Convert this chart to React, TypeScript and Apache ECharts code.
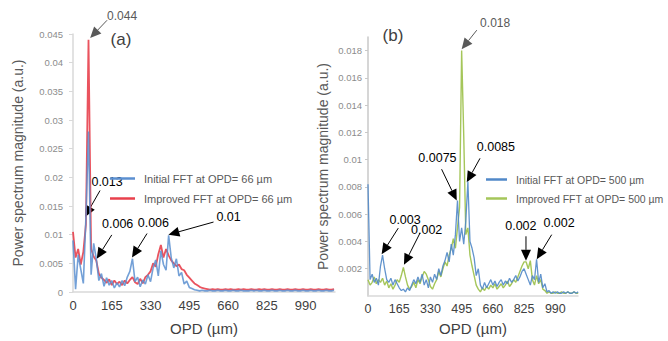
import React, { useEffect, useRef } from 'react';
import * as echarts from 'echarts';

const FONT = '"Liberation Sans", Arial, sans-serif';

// OPD sample positions (µm)
const OPD = [
  0, 11, 22, 33, 44, 55, 66, 77, 88, 99,
  110, 121, 132, 143, 154, 165, 176, 187, 198, 209,
  220, 231, 242, 253, 264, 275, 286, 297, 308, 319,
  330, 341, 352, 363, 374, 385, 396, 407, 418, 429,
  440, 451, 462, 473, 484, 495, 506, 517, 528, 539,
  550, 561, 572, 583, 594, 605, 616, 627, 638, 649,
  660, 671, 682, 693, 704, 715, 726, 737, 748, 759,
  770, 781, 792, 803, 814, 825, 836, 847, 858, 869,
  880, 891, 902, 913, 924, 935, 946, 957, 968, 979,
  990, 1001, 1012, 1023, 1034, 1045, 1056, 1067, 1078, 1089,
  1100, 1111,
];

// (a) OPD = 66 µm
const INITIAL_A = [
  0.009, 0.0005, 0.0065, 0.004, 0.0015, 0.013, 0.028, 0.003, 0.0085, 0.0058,
  0.002, 0.0032, 0.001, 0.0025, 0.0012, 0.002, 0.0007, 0.0016, 0.0009, 0.002,
  0.0011, 0.0026, 0.0036, 0.0058, 0.0018, 0.0026, 0.0009, 0.0021, 0.0014, 0.003,
  0.0018, 0.0042, 0.0056, 0.0028, 0.0072, 0.0048, 0.0038, 0.0099, 0.006, 0.0042,
  0.0058, 0.0028, 0.0034, 0.0014, 0.0019, 0.0008, 0.0006, 0.0004, 0.0003, 0.0002,
  0.0003, 0.0002, 0.0002, 0.0003, 0.0002, 0.0002, 0.0003, 0.0002, 0.0002, 0.0003,
  0.0002, 0.0002, 0.0003, 0.0002, 0.0002, 0.0003, 0.0002, 0.0002, 0.0002, 0.0003,
  0.0002, 0.0003, 0.0002, 0.0002, 0.0003, 0.0002, 0.0002, 0.0003, 0.0002, 0.0002,
  0.0003, 0.0002, 0.0002, 0.0003, 0.0002, 0.0002, 0.0003, 0.0002, 0.0002, 0.0003,
  0.0002, 0.0002, 0.0003, 0.0002, 0.0002, 0.0003, 0.0002, 0.0002, 0.0003, 0.0002,
  0.0002, 0.0003,
];

const IMPROVED_A = [
  0.0105, 0.006, 0.0075, 0.0048, 0.007, 0.0118, 0.044, 0.0075, 0.0062, 0.0055,
  0.0032, 0.0025, 0.0021, 0.0016, 0.0022, 0.0012, 0.002, 0.0014, 0.0018, 0.0012,
  0.002, 0.0015, 0.0021, 0.0026, 0.0017, 0.0014, 0.0023, 0.0015, 0.0026, 0.003,
  0.0036, 0.005, 0.0044, 0.0066, 0.0082, 0.006, 0.0075, 0.0064, 0.0055, 0.005,
  0.0045, 0.0048, 0.004, 0.0038, 0.003, 0.0025, 0.002, 0.0015, 0.0012, 0.0009,
  0.0007, 0.0006, 0.0005, 0.0004, 0.0005, 0.0004, 0.0005, 0.0004, 0.0004, 0.0005,
  0.0004, 0.0005, 0.0004, 0.0004, 0.0005, 0.0004, 0.0005, 0.0004, 0.0004, 0.0005,
  0.0004, 0.0004, 0.0005, 0.0004, 0.0005, 0.0004, 0.0004, 0.0005, 0.0004, 0.0004,
  0.0005, 0.0004, 0.0004, 0.0005, 0.0004, 0.0004, 0.0005, 0.0004, 0.0004, 0.0005,
  0.0004, 0.0004, 0.0005, 0.0004, 0.0004, 0.0005, 0.0004, 0.0004, 0.0005, 0.0004,
  0.0004, 0.0005,
];

// (b) OPD = 500 µm
const INITIAL_B = [
  0.0082, 0.0012, 0.0016, 0.001, 0.0013, 0.0008, 0.0022, 0.003, 0.002, 0.0012,
  0.001, 0.0013, 0.0008, 0.0012, 0.0009, 0.0006, 0.0004, 0.0005, 0.0003, 0.0006,
  0.0004, 0.0008, 0.0012, 0.0009, 0.0014, 0.001, 0.0016, 0.0008, 0.0012, 0.0006,
  0.0014, 0.001, 0.0016, 0.0012, 0.002, 0.0015, 0.0022, 0.0026, 0.0032, 0.0025,
  0.0038, 0.003, 0.0045, 0.007, 0.004, 0.005, 0.0038, 0.0055, 0.0084, 0.004,
  0.0035, 0.0028, 0.0015, 0.002, 0.0008, 0.0005, 0.001, 0.0006, 0.0009, 0.0012,
  0.0008, 0.0011, 0.0007, 0.001, 0.0012, 0.0008, 0.0011, 0.0009, 0.0013, 0.001,
  0.0012, 0.0015, 0.0011, 0.0014, 0.0018, 0.002, 0.0016, 0.0012, 0.0008, 0.0015,
  0.0012, 0.0027, 0.001, 0.0016, 0.0006, 0.0009, 0.0003, 0.0004, 0.0002, 0.0003,
  0.0002, 0.0003, 0.0002, 0.0002, 0.0003, 0.0002, 0.0003, 0.0002, 0.0002, 0.0003,
  0.0002, 0.0003,
];

const IMPROVED_B = [
  0.0012, 0.0008, 0.001, 0.0014, 0.0009, 0.0012, 0.001, 0.0013, 0.0008, 0.0011,
  0.0006, 0.0009, 0.0005, 0.0008, 0.0012, 0.001, 0.0015, 0.0021, 0.0014, 0.0008,
  0.0005, 0.0007, 0.001, 0.0006, 0.0012, 0.0009, 0.0014, 0.0018, 0.0016, 0.0012,
  0.0007, 0.0005, 0.0009, 0.0012, 0.0018, 0.0014, 0.002, 0.0025, 0.0022, 0.003,
  0.0035, 0.0042, 0.0035, 0.005, 0.0065, 0.018, 0.0118, 0.0045, 0.005, 0.003,
  0.0022, 0.0015, 0.0008, 0.0005, 0.0003, 0.0006, 0.0004, 0.0007, 0.0005, 0.0008,
  0.0006, 0.0009, 0.0005, 0.0007, 0.0009, 0.0006, 0.0008, 0.0011, 0.0007, 0.0009,
  0.0012, 0.001, 0.0014, 0.0018, 0.0022, 0.0025, 0.0025, 0.002, 0.0026, 0.0012,
  0.0008, 0.0015, 0.0009, 0.0012, 0.0005, 0.0004, 0.0002, 0.0003, 0.0002, 0.0002,
  0.0003, 0.0002, 0.0002, 0.0003, 0.0002, 0.0002, 0.0003, 0.0002, 0.0002, 0.0003,
  0.0002, 0.0002,
];

const NAMES_A = ['Initial FFT at OPD= 66 µm', 'Improved FFT at OPD= 66 µm'];
const NAMES_B = ['Initial FFT at OPD= 500 µm', 'Improved FFT at OPD= 500 µm'];

// annotations: label, text anchor, arrow start, arrow tip (data coords)
const ANNOT_A = [
  { label: '0.044', text: [209, 0.0481], from: [145, 0.0474], to: [73, 0.0443], gray: true },
  { label: '0.013', text: [145, 0.0192], from: [115, 0.0177], to: [51, 0.0131] },
  { label: '0.006', text: [190, 0.01185], from: [165, 0.00996], to: [101, 0.0058] },
  { label: '0.006', text: [342, 0.012], from: [315, 0.0102], to: [251, 0.006] },
  { label: '0.01', text: [662, 0.0131], from: [598, 0.0122], to: [406, 0.01] },
];
const ANNOT_B = [
  { label: '0.018', text: [672, 0.02], from: [575, 0.0195], to: [495, 0.0181], gray: true },
  { label: '0.0075', text: [367, 0.0101], from: [389, 0.0093], to: [469, 0.007] },
  { label: '0.0085', text: [676, 0.01093], from: [592, 0.0101], to: [522, 0.00834] },
  { label: '0.003', text: [196, 0.00558], from: [160, 0.00498], to: [72, 0.00306] },
  { label: '0.002', text: [310, 0.00486], from: [275, 0.00462], to: [190, 0.00229] },
  { label: '0.002', text: [808, 0.0051], from: [835, 0.00438], to: [835, 0.00258] },
  { label: '0.002', text: [1010, 0.00534], from: [971, 0.0045], to: [892, 0.0027] },
];

const zip = (xs: number[], ys: number[]) => xs.map((x, i) => [x, ys[i]]);
const yFmt = (v: number) => String(parseFloat(v.toFixed(4)));

export default function App() {
  const ref = useRef<HTMLDivElement>(null);
  useEffect(() => {
    const chart = echarts.init(ref.current!, null, { renderer: 'svg' });
    const xAxisBase = (gridIndex: number, max: number, fontSize: number, margin: number, nameGap: number) => ({
      type: 'value',
      gridIndex,
      min: 0,
      max,
      interval: 165,
      name: 'OPD (µm)',
      nameLocation: 'middle',
      nameGap,
      nameTextStyle: { fontFamily: FONT, fontSize: 15, color: '#404040' },
      axisLine: { show: true, lineStyle: { color: '#d9d9d9', width: 1.5 } },
      axisTick: { show: false },
      splitLine: { show: false },
      axisLabel: {
        fontFamily: FONT,
        fontSize,
        color: '#404040',
        margin,
        showMaxLabel: false,
        hideOverlap: false,
      },
    });
    const legendBase = (
      names: string[],
      left: number,
      top: number,
      itemWidth: number,
      gap: number,
      fontSize: number,
    ) => ({
      data: names,
      orient: 'vertical',
      left,
      top,
      icon: 'rect',
      itemWidth,
      itemHeight: 2.5,
      itemGap: gap,
      textStyle: { fontFamily: FONT, fontSize, color: '#595959', padding: [0, 0, 0, 4] },
    });
    const option: any = {
      animation: false,
      backgroundColor: '#ffffff',
      grid: [
        { left: 73, top: 34, width: 262, height: 262, containLabel: false },
        { left: 368, top: 37, width: 210, height: 264, containLabel: false },
      ],
      xAxis: [xAxisBase(0, 1115, 13, 7, 29), xAxisBase(1, 1110, 12.5, 6, 25)],
      yAxis: [
        {
          type: 'value',
          gridIndex: 0,
          min: 0,
          max: 0.045,
          interval: 0.005,
          name: 'Power spectrum magnitude (a.u.)',
          nameLocation: 'middle',
          nameGap: 48,
          nameTextStyle: { fontFamily: FONT, fontSize: 14, color: '#595959' },
          axisLine: { show: true, lineStyle: { color: '#d9d9d9', width: 1.5 } },
          axisTick: { show: true, length: 4, lineStyle: { color: '#d9d9d9' } },
          splitLine: { show: false },
          axisLabel: { fontFamily: FONT, fontSize: 9.5, color: '#8c8c8c', margin: 10, formatter: yFmt, hideOverlap: false },
        },
        {
          type: 'value',
          gridIndex: 1,
          min: 0,
          max: 0.019,
          interval: 0.002,
          name: 'Power spectrum magnitude (a.u.)',
          nameLocation: 'middle',
          nameGap: 38,
          nameTextStyle: { fontFamily: FONT, fontSize: 14, color: '#595959' },
          axisLine: { show: true, lineStyle: { color: '#c8c8c8', width: 1.5 } },
          axisTick: { show: true, length: 3, lineStyle: { color: '#c8c8c8' } },
          splitLine: { show: false },
          axisLabel: {
            fontFamily: FONT,
            fontSize: 9.5,
            color: '#8c8c8c',
            margin: 6,
            formatter: yFmt,
            showMinLabel: false,
            showMaxLabel: false,
            hideOverlap: false,
          },
        },
      ],
      legend: [legendBase(NAMES_A, 105, 168, 25, 9, 11), legendBase(NAMES_B, 481, 169, 21, 8, 10.5)],
      series: [
        {
          name: NAMES_A[1],
          type: 'line',
          xAxisIndex: 0,
          yAxisIndex: 0,
          data: zip(OPD, IMPROVED_A),
          symbol: 'none',
          color: '#e8404c',
          lineStyle: { width: 1.8, color: '#e8404c', opacity: 0.9 },
        },
        {
          name: NAMES_A[0],
          type: 'line',
          xAxisIndex: 0,
          yAxisIndex: 0,
          data: zip(OPD, INITIAL_A),
          symbol: 'none',
          color: '#5b8fd0',
          lineStyle: { width: 1.6, color: '#5b8fd0', opacity: 0.85 },
        },
        {
          name: NAMES_B[1],
          type: 'line',
          xAxisIndex: 1,
          yAxisIndex: 1,
          data: zip(OPD, IMPROVED_B),
          symbol: 'none',
          color: '#a5c65a',
          lineStyle: { width: 1.4, color: '#a5c65a' },
        },
        {
          name: NAMES_B[0],
          type: 'line',
          xAxisIndex: 1,
          yAxisIndex: 1,
          data: zip(OPD, INITIAL_B),
          symbol: 'none',
          color: '#5188c8',
          lineStyle: { width: 1.3, color: '#5188c8', opacity: 0.9 },
        },
      ],
    };
    chart.setOption(option);

    const build = (gridIndex: number, list: any[]) =>
      list.flatMap((a) => {
        const color = a.gray ? '#595959' : '#000000';
        const t = chart.convertToPixel({ gridIndex } as any, a.text) as number[];
        const f = chart.convertToPixel({ gridIndex } as any, a.from) as number[];
        const p = chart.convertToPixel({ gridIndex } as any, a.to) as number[];
        const dx = p[0] - f[0];
        const dy = p[1] - f[1];
        const len = Math.hypot(dx, dy) || 1;
        const ux = dx / len;
        const uy = dy / len;
        const L = 11;
        const W = 10;
        const bx = p[0] - ux * L;
        const by = p[1] - uy * L;
        const nx = -uy;
        const ny = ux;
        return [
          {
            type: 'line',
            silent: true,
            shape: { x1: f[0], y1: f[1], x2: bx, y2: by },
            style: { stroke: color, lineWidth: 1 },
          },
          {
            type: 'polygon',
            silent: true,
            shape: {
              points: [
                [p[0], p[1]],
                [bx + (nx * W) / 2, by + (ny * W) / 2],
                [bx - (nx * W) / 2, by - (ny * W) / 2],
              ],
            },
            style: { fill: color },
          },
          {
            type: 'text',
            silent: true,
            x: t[0],
            y: t[1],
            style: {
              text: a.label,
              fill: color,
              font: `${a.gray ? 12 : 12.5}px ${FONT}`,
              align: 'center',
              verticalAlign: 'middle',
              textAlign: 'center',
              textVerticalAlign: 'middle',
            },
          },
        ];
      });

    const title = (text: string, x: number, y: number) => ({
      type: 'text',
      silent: true,
      x,
      y,
      style: {
        text,
        fill: '#404040',
        font: `17px ${FONT}`,
        align: 'center',
        verticalAlign: 'middle',
        textAlign: 'center',
        textVerticalAlign: 'middle',
      },
    });

    chart.setOption({
      graphic: {
        elements: [...build(0, ANNOT_A), ...build(1, ANNOT_B), title('(a)', 121, 39), title('(b)', 393, 35)],
      },
    });

    return () => chart.dispose();
  }, []);
  return (
    <div
      ref={ref}
      style={{ position: 'fixed', left: 0, top: 0, width: 668, height: 341, background: '#fff' }}
    />
  );
}
